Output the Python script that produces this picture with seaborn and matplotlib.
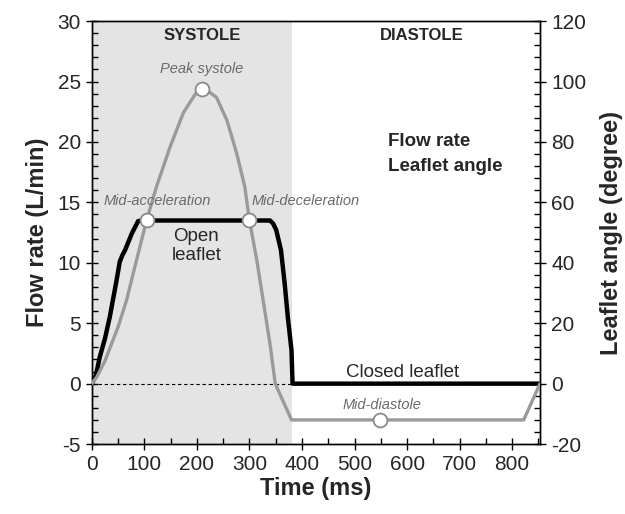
import matplotlib
matplotlib.use("Agg")
import matplotlib.pyplot as plt
import seaborn as sns
import pandas as pd
from matplotlib.ticker import MultipleLocator

# flow rate (L/min)
time_flow = [0, 10, 25, 50, 66, 82, 104, 123, 149, 174, 193, 201, 209, 218, 237, 257, 276, 291, 300, 314, 326, 339, 349, 380, 549, 822, 853]
flow = [0, 0.6, 1.9, 4.7, 6.9, 9.7, 13.5, 16.3, 19.6, 22.4, 23.7, 24.2, 24.4, 24.3, 23.7, 21.8, 19.0, 16.3, 13.5, 10.2, 6.9, 3.3, 0, -3.0, -3.0, -3.0, 0]

# leaflet angle (degree), black curve
time_angle = [0, 8, 15, 25, 34, 47, 53, 58, 63, 76, 88, 95, 339, 345, 351, 360, 367, 373, 380, 382, 853]
angle = [0, 3, 8.8, 15, 22, 34.2, 40.3, 42.5, 44.1, 49.7, 53.8, 54, 54, 53, 50.8, 44.1, 33.1, 22, 11, 0, 0]

event_names = ["Mid-acceleration", "Peak systole", "Mid-deceleration", "Mid-diastole"]
event_time = [104, 209, 300, 549]
event_flow = [13.5, 24.4, 13.5, -3.0]

systole_end = 380

df_flow = pd.DataFrame({"t": time_flow, "flow": flow})
df_angle = pd.DataFrame({"t": time_angle, "angle": angle})
df_ev = pd.DataFrame({"t": event_time, "flow": event_flow, "name": event_names})

sns.set_style("ticks")
plt.rcParams["font.family"] = ["Liberation Sans", "DejaVu Sans"]
plt.rcParams["axes.unicode_minus"] = False

fig = plt.figure(figsize=(6.25, 5.14), dpi=100)
ax2 = fig.add_axes([0.147, 0.136, 0.717, 0.823])
ax = ax2.twinx()
ax.set_zorder(ax2.get_zorder() + 1)
ax.patch.set_visible(False)

# secondary axis (underneath): shading, zero line, leaflet angle
ax2.axvspan(0, systole_end, color="#e4e4e4", lw=0, zorder=0)
ax2.axhline(0, color="black", lw=0.8, ls=(0, (3, 2.5)), zorder=1)
sns.lineplot(data=df_angle, x="t", y="angle", ax=ax2, color="black", lw=3.2, zorder=2)

# flow rate on top
sns.lineplot(data=df_flow, x="t", y="flow", ax=ax, color="#9a9a9a", lw=2.4, zorder=3)
ax.plot(df_ev["t"], df_ev["flow"], ls="none", marker="o", ms=10,
        mfc="white", mec="#8a8a8a", mew=1.3, zorder=5)

# the twin is set up so that the flow axis is on the left
ax.yaxis.tick_left()
ax.yaxis.set_label_position("left")
ax2.yaxis.tick_right()
ax2.yaxis.set_label_position("right")

ax.set_xlim(0, 853)
ax.set_ylim(-5, 30)
ax2.set_ylim(-20, 120)
ax.set_yticks(range(-5, 31, 5))
ax2.set_yticks(range(-20, 121, 20))
ax2.set_xticks(range(0, 801, 100))
ax.yaxis.set_minor_locator(MultipleLocator(1))
ax2.yaxis.set_minor_locator(MultipleLocator(4))
ax2.xaxis.set_minor_locator(MultipleLocator(50))

for a in (ax, ax2):
    a.tick_params(which="major", direction="inout", length=9, width=1, labelsize=15, color="black")
    a.tick_params(which="minor", direction="in", length=4.5, width=1, color="black")
    for s in a.spines.values():
        s.set_color("black")
        s.set_linewidth(1)
ax2.tick_params(axis="x", which="both", top=False)
ax.tick_params(axis="x", which="both", bottom=False, top=False, labelbottom=False)

ax.set_ylabel("Flow rate (L/min)", fontsize=17, fontweight="bold", labelpad=6)
ax2.set_ylabel("Leaflet angle (degree)", fontsize=17, fontweight="bold", labelpad=10)
ax2.set_xlabel("Time (ms)", fontsize=17, fontweight="bold", labelpad=2)
ax.set_xlabel("")

# annotations
ax.text(210, 28.8, "SYSTOLE", ha="center", va="center", fontsize=12, fontweight="bold")
ax.text(628, 28.8, "DIASTOLE", ha="center", va="center", fontsize=12, fontweight="bold")
ev_offsets = {"Peak systole": (209, 26.0), "Mid-acceleration": (124, 15.1),
              "Mid-deceleration": (407, 15.1), "Mid-diastole": (553, -1.8)}
for name in event_names:
    x, y = ev_offsets[name]
    ax.text(x, y, name, ha="center", va="center", fontsize=10.5, style="italic", color="#6a6a6a")
ax.text(199, 11.4, "Open\nleaflet", ha="center", va="center", fontsize=13.5, linespacing=1.1)
ax.text(591, 0.96, "Closed leaflet", ha="center", va="center", fontsize=13.5)
ax.text(564, 20.0, "Flow rate", ha="left", va="center", fontsize=13.5, fontweight="bold")
ax.text(564, 18.0, "Leaflet angle", ha="left", va="center", fontsize=13.5, fontweight="bold")

fig.savefig("out.png", dpi=100)
